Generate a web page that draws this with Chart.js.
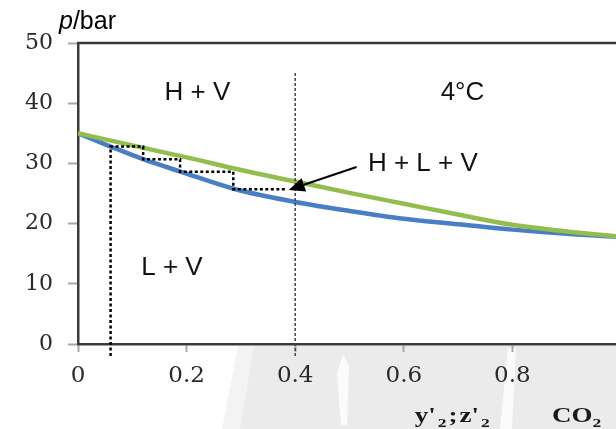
<!DOCTYPE html>
<html lang="en">

<head>
    <meta charset="UTF-8">
    <script src="https://cdn.jsdelivr.net/npm/chart.js@4"></script>
    <title>CO2 hydrate 4°C</title>
    <style>
        body { margin: 0; overflow: hidden; background: #fff; }
    </style>
</head>

<body>
    <canvas id="myChart" width="632" height="429" style="width:632px;height:429px;display:block"></canvas>
    <script>
        // bubble curve (L+V -> H+L+V boundary), blue
        const bubbleX = [0, 0.06, 0.12, 0.19, 0.29, 0.4, 0.5, 0.6, 0.7, 0.8, 0.9, 1.0];
        const bubbleP = [35, 32.8, 30.7, 28.6, 25.7, 23.6, 22.1, 20.8, 19.9, 19.0, 18.3, 17.8];
        // hydrate curve, green
        const hydrateX = [0, 0.1, 0.2, 0.3, 0.4, 0.5, 0.6, 0.7, 0.8, 0.9, 1.0];
        const hydrateP = [35, 33.0, 31.0, 28.9, 27.0, 25.1, 23.3, 21.5, 19.8, 18.7, 17.8];
        // dotted staircase
        const stepX = [0.06, 0.06, 0.12, 0.12, 0.188, 0.188, 0.286, 0.286, 0.385];
        const stepP = [-2, 32.8, 32.8, 30.7, 30.7, 28.6, 28.6, 25.7, 25.7];
        // feed composition line
        const feedX = [0.4, 0.4];
        const feedP = [-2, 45];
        // tick values (the 1.0 label falls outside the picture)
        const xTicks = [0, 0.2, 0.4, 0.6, 0.8];
        const yTicks = [0, 10, 20, 30, 40, 50];
        // region labels
        const regionLabels = ['H + V', '4°C', 'H + L + V', 'L + V'];
        const regionX = [0.22, 0.708, 0.635, 0.173];
        const regionP = [41.7, 41.7, 29.9, 12.6];
        // arrow from "H + L + V" to the end of the staircase
        const arrowFrom = [0.513, 29.4];
        const arrowTo = [0.388, 25.6];

        function pts(xs, ys) {
            return xs.map((x, i) => ({ x: x, y: ys[i] }));
        }

        const decor = {
            id: 'decor',
            beforeDraw(chart) {
                const ctx = chart.ctx, a = chart.chartArea;
                ctx.save();
                ctx.fillStyle = '#fff';
                ctx.fillRect(0, 0, chart.width, chart.height);
                // faint watermark in the background
                ctx.fillStyle = '#f3f3f3';
                ctx.beginPath();
                ctx.moveTo(238, a.bottom + 2);
                ctx.lineTo(260, a.bottom + 2);
                ctx.lineTo(240, chart.height);
                ctx.lineTo(222, chart.height);
                ctx.closePath();
                ctx.fill();
                ctx.fillStyle = '#ebebeb';
                ctx.beginPath();
                ctx.moveTo(254, a.bottom + 2);
                ctx.lineTo(chart.width, a.bottom + 2);
                ctx.lineTo(chart.width, chart.height);
                ctx.lineTo(240, chart.height);
                ctx.closePath();
                ctx.fill();
                // light streaks
                ctx.fillStyle = '#fbfbfb';
                ctx.beginPath();
                ctx.moveTo(343, a.bottom + 10);
                ctx.lineTo(349, a.bottom + 22);
                ctx.lineTo(347, chart.height - 4);
                ctx.lineTo(341, chart.height - 4);
                ctx.lineTo(337, a.bottom + 30);
                ctx.closePath();
                ctx.fill();
                ctx.beginPath();
                ctx.moveTo(508, a.bottom + 4);
                ctx.lineTo(516, a.bottom + 4);
                ctx.lineTo(512, chart.height);
                ctx.lineTo(500, chart.height);
                ctx.closePath();
                ctx.fill();
                ctx.restore();
            },
            afterDraw(chart) {
                const ctx = chart.ctx, a = chart.chartArea;
                const xs = chart.scales.x, ys = chart.scales.y;
                ctx.save();
                // top frame line
                ctx.strokeStyle = '#3a3a3a';
                ctx.lineWidth = 2.5;
                ctx.beginPath();
                ctx.moveTo(a.left - 1, a.top);
                ctx.lineTo(a.right, a.top);
                ctx.stroke();

                // region labels
                ctx.fillStyle = '#111';
                ctx.font = '26px "Liberation Sans", Arial, sans-serif';
                ctx.textAlign = 'center';
                ctx.textBaseline = 'middle';
                regionLabels.forEach((t, i) => {
                    ctx.fillText(t, xs.getPixelForValue(regionX[i]), ys.getPixelForValue(regionP[i]));
                });

                // arrow
                const x1 = xs.getPixelForValue(arrowFrom[0]), y1 = ys.getPixelForValue(arrowFrom[1]);
                const x2 = xs.getPixelForValue(arrowTo[0]), y2 = ys.getPixelForValue(arrowTo[1]);
                const ang = Math.atan2(y2 - y1, x2 - x1);
                const hl = 16, hw = 7;
                const bx = x2 - hl * Math.cos(ang), by = y2 - hl * Math.sin(ang);
                ctx.strokeStyle = '#000';
                ctx.lineWidth = 2;
                ctx.beginPath();
                ctx.moveTo(x1, y1);
                ctx.lineTo(bx, by);
                ctx.stroke();
                ctx.fillStyle = '#000';
                ctx.beginPath();
                ctx.moveTo(x2, y2);
                ctx.lineTo(bx + hw * Math.sin(ang), by - hw * Math.cos(ang));
                ctx.lineTo(bx - hw * Math.sin(ang), by + hw * Math.cos(ang));
                ctx.closePath();
                ctx.fill();

                // y axis title: p/bar
                ctx.textAlign = 'left';
                ctx.textBaseline = 'alphabetic';
                ctx.font = 'italic 25px "Liberation Sans", Arial, sans-serif';
                let tx = 59;
                ctx.fillText('p', tx, 29);
                tx += ctx.measureText('p').width;
                ctx.font = '25px "Liberation Sans", Arial, sans-serif';
                ctx.fillText('/bar', tx, 29);

                // x axis title: y'2;z'2   CO2 (serif bold, stretched)
                const base = a.bottom + 78;
                const drawParts = (x0, parts) => {
                    ctx.save();
                    ctx.translate(x0, base);
                    ctx.scale(1.35, 1);
                    let cx = 0;
                    parts.forEach(p => {
                        ctx.font = p.sub ? 'bold 13px "Liberation Serif", serif' : 'bold 20px "Liberation Serif", serif';
                        ctx.fillText(p.t, cx, p.sub ? 5 : 0);
                        cx += ctx.measureText(p.t).width + (p.gap || 0);
                    });
                    ctx.restore();
                };
                ctx.fillStyle = '#1a1a1a';
                drawParts(xs.getPixelForValue(0.62), [
                    { t: "y'", gap: 1.5 }, { t: '2', sub: true, gap: 1.5 }, { t: ';', gap: 1.5 },
                    { t: "z'", gap: 1.5 }, { t: '2', sub: true }
                ]);
                drawParts(xs.getPixelForValue(0.873), [{ t: 'CO' }, { t: '2', sub: true }]);
                ctx.restore();
            }
        };

        const ctx = document.getElementById('myChart');
        const myChart = new Chart(ctx, {
            type: 'scatter',
            data: {
                datasets: [{
                    data: pts(stepX, stepP)
                    , showLine: true
                    , borderColor: '#000'
                    , borderWidth: 2.5
                    , borderDash: [3, 2.5]
                    , pointRadius: 0
                    , clip: false
                }, {
                    data: pts(feedX, feedP)
                    , showLine: true
                    , borderColor: '#444'
                    , borderWidth: 1.5
                    , borderDash: [3, 2]
                    , pointRadius: 0
                    , clip: false
                }, {
                    data: pts(hydrateX, hydrateP)
                    , showLine: true
                    , borderColor: '#93bd4f'
                    , borderWidth: 4.5
                    , pointRadius: 0
                    , cubicInterpolationMode: 'monotone'
                }, {
                    data: pts(bubbleX, bubbleP)
                    , showLine: true
                    , borderColor: '#4a7ec4'
                    , borderWidth: 4.5
                    , pointRadius: 0
                    , cubicInterpolationMode: 'monotone'
                }]
            },
            options: {
                responsive: false
                , animation: false
                , layout: { padding: { top: 43, left: 0, right: 11, bottom: 0 } }
                , plugins: {
                    legend: { display: false }
                    , tooltip: { enabled: false }
                    , title: { display: false }
                }
                , scales: {
                    x: {
                        type: 'linear'
                        , min: 0
                        , max: 1
                        , afterFit: s => { s.height = 85; }
                        , afterBuildTicks: s => { s.ticks = xTicks.map(v => ({ value: v })); }
                        , ticks: {
                            padding: 10
                            , color: '#2a2a2a'
                            , font: { family: '"DejaVu Serif", serif', size: 23 }
                            , maxRotation: 0
                            , callback: v => (v === 0 ? '0' : v.toFixed(1))
                        }
                        , grid: {
                            drawOnChartArea: false
                            , drawTicks: true
                            , tickLength: 8
                            , tickColor: '#a8a8a8'
                            , tickWidth: 2
                        }
                        , border: { color: '#3a3a3a', width: 2.5 }
                    }
                    , y: {
                        min: 0
                        , max: 50
                        , afterFit: s => { s.width = 78; }
                        , afterBuildTicks: s => { s.ticks = yTicks.map(v => ({ value: v })); }
                        , ticks: {
                            padding: 15
                            , color: '#2a2a2a'
                            , font: { family: '"DejaVu Serif", serif', size: 22 }
                        }
                        , grid: {
                            drawOnChartArea: false
                            , drawTicks: true
                            , tickLength: 10
                            , tickColor: '#a8a8a8'
                            , tickWidth: 2
                        }
                        , border: { color: '#3a3a3a', width: 2.5 }
                    }
                }
            },
            plugins: [decor]
        });
    </script>
</body>

</html>
